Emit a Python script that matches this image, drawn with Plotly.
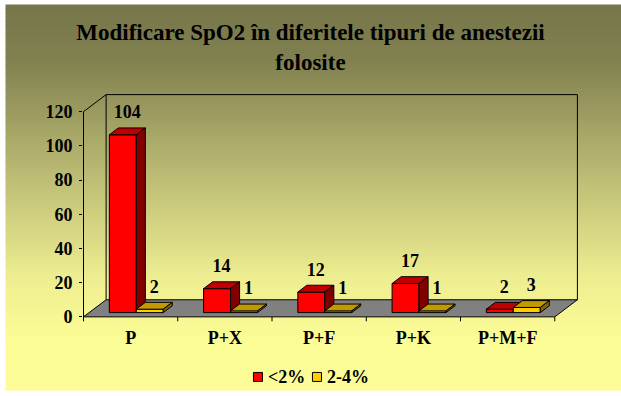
import plotly.graph_objects as go

# ---------------- data ----------------
categories = ["P", "P+X", "P+F", "P+K", "P+M+F"]
series_names = ["<2%", "2-4%"]
values_lt2 = [104, 14, 12, 17, 2]
values_2to4 = [2, 1, 1, 1, 3]
y_ticks = [0, 20, 40, 60, 80, 100, 120]
title_text = "Modificare SpO2 în diferitele tipuri de anestezii<br>folosite"

# ---------------- geometry / style ----------------
W, H = 621, 396
PX_X = 94.27          # px per category unit
PY = 1.7077           # px per value unit
X_FRONT_PX = 83       # pixel of front-left edge
Y0_PX = 317           # pixel of front floor line
DX, DY = 0.24, 10     # depth of the chart (data units)
F0, F1 = 0.25, 0.65   # bar depth fraction (front, back)
BW = 0.286            # bar width
YMAX_WALL = 130

FONT = "Liberation Serif"
FS = 18
SERIES_STYLE = [
    dict(front="#FF0000", top="#C00000", side="#800000"),
    dict(front="#FFCC00", top="#C09A00", side="#806600"),
]

xmin = -0.5 - 0.5 / PX_X
xmax = len(categories) - 0.5 + DX + 0.6 / PX_X
ymin = -3
ymax = YMAX_WALL + 0.6 / PY

m_l = X_FRONT_PX - 0.5
plot_w = (xmax - xmin) * PX_X
m_r = W - m_l - plot_w
m_t = Y0_PX - ymax * PY
plot_bottom_px = Y0_PX - ymin * PY
m_b = H - plot_bottom_px
plot_h = plot_bottom_px - m_t

bdx = (F1 - F0) * DX
bdy = (F1 - F0) * DY
base = F0 * DY

fig = go.Figure()

all_series = [values_lt2, values_2to4]
axes = [("x", "y"), ("x2", "y2")]
for s, vals in enumerate(all_series):
    st = SERIES_STYLE[s]
    xa, ya = axes[s]
    centers = [i + F0 * DX + (s - 0.5) * BW for i in range(len(categories))]
    fig.add_trace(go.Bar(
        x=centers, y=vals, base=base, width=BW, name=series_names[s],
        marker=dict(color=st["front"], line=dict(color="black", width=1)),
        xaxis=xa, yaxis=ya, hoverinfo="skip", showlegend=False,
    ))
    tx, ty, sx, sy = [], [], [], []
    for c, v in zip(centers, vals):
        xl, xr = c - BW / 2, c + BW / 2
        yt = base + v
        tx += [xl, xr, xr + bdx, xl + bdx, xl, None]
        ty += [yt, yt, yt + bdy, yt + bdy, yt, None]
        sx += [xr, xr, xr + bdx, xr + bdx, xr, None]
        sy += [base, yt, yt + bdy, base + bdy, base, None]
    for px_, py_, col in [(tx, ty, st["top"]), (sx, sy, st["side"])]:
        fig.add_trace(go.Scatter(
            x=px_, y=py_, fill="toself", fillcolor=col, mode="lines",
            line=dict(color="black", width=1), showlegend=False,
            xaxis=xa, yaxis=ya, hoverinfo="skip",
        ))

# data labels (top layer)
lx, ly, lt = [], [], []
for s, vals in enumerate(all_series):
    for i, v in enumerate(vals):
        lx.append(i + F0 * DX + (s - 0.5) * BW + bdx / 2)
        ly.append(base + v + 21 / PY)
        lt.append(str(v))
fig.add_trace(go.Scatter(
    x=lx, y=ly, text=lt, mode="text", textposition="middle center",
    textfont=dict(family=FONT, size=FS, color="black", weight="bold"),
    showlegend=False, xaxis="x2", yaxis="y2", hoverinfo="skip", cliponaxis=False,
))

shapes = []
annotations = []
def px2paper_x(px):
    return (px - m_l) / plot_w
def px2paper_y(py):
    return (plot_bottom_px - py) / plot_h

# gradient background bands
stops = [(5, (118, 118, 74)), (60, (128, 128, 80)), (180, (190, 190, 118)),
         (280, (238, 238, 145)), (340, (252, 252, 150)), (391, (252, 252, 152))]
def col_at(py):
    for (a, ca), (b, cb) in zip(stops[:-1], stops[1:]):
        if a <= py <= b:
            t = (py - a) / (b - a)
            return tuple(int(round(ca[k] + (cb[k] - ca[k]) * t)) for k in range(3))
    return stops[-1][1]
band = 4
py = 5
while py < 390:
    y2 = min(py + band, 390)
    c = col_at(py + band / 2)
    shapes.append(dict(type="rect", xref="paper", yref="paper",
                       x0=px2paper_x(5), x1=px2paper_x(W + 2),
                       y0=px2paper_y(y2 + 0.5), y1=px2paper_y(py),
                       fillcolor="rgb(%d,%d,%d)" % c, line=dict(width=0), layer="below"))
    py = y2

n = len(categories)
def path(pts, close=False):
    s = "M " + " L ".join("%f,%f" % p for p in pts)
    return s + (" Z" if close else "")
# floor
shapes.append(dict(type="path", xref="x", yref="y", layer="below",
                   path=path([(-0.5, 0), (n - 0.5, 0), (n - 0.5 + DX, DY), (-0.5 + DX, DY)], True),
                   fillcolor="#808080", line=dict(color="black", width=1)))
# back wall outline
shapes.append(dict(type="path", xref="x", yref="y", layer="below",
                   path=path([(-0.5 + DX, DY), (-0.5 + DX, YMAX_WALL), (n - 0.5 + DX, YMAX_WALL), (n - 0.5 + DX, DY)]),
                   line=dict(color="black", width=1)))
# front-left axis line + diagonal
shapes.append(dict(type="path", xref="x", yref="y", layer="below",
                   path=path([(-0.5, 0), (-0.5, y_ticks[-1]), (-0.5 + DX, YMAX_WALL)]),
                   line=dict(color="black", width=1)))
# category boundary ticks
for k in range(n + 1):
    shapes.append(dict(type="line", xref="x", yref="y", layer="below",
                       x0=k - 0.5, x1=k - 0.5, y0=0, y1=-2.6,
                       line=dict(color="black", width=1)))

# legend (manual, compact like the original)
LEG_Y = 377
leg_items = [(253, 266), (312, 325)]   # square left px, text left px
for s, (sq_x, tx_x) in enumerate(leg_items):
    shapes.append(dict(type="rect", xref="paper", yref="paper", layer="above",
                       x0=px2paper_x(sq_x), x1=px2paper_x(sq_x + 9),
                       y0=px2paper_y(LEG_Y + 4.5), y1=px2paper_y(LEG_Y - 4.5),
                       fillcolor=SERIES_STYLE[s]["front"], line=dict(color="black", width=1)))
    annotations.append(dict(text=series_names[s], xref="paper", yref="paper",
                            x=px2paper_x(tx_x), y=px2paper_y(LEG_Y), xanchor="left", yanchor="middle",
                            showarrow=False,
                            font=dict(family=FONT, size=FS, color="black", weight="bold")))

fig.update_layout(
    width=W, height=H,
    margin=dict(l=m_l, r=m_r, t=m_t, b=m_b, pad=0, autoexpand=False),
    paper_bgcolor="white", plot_bgcolor="rgba(0,0,0,0)",
    barmode="overlay",
    shapes=shapes,
    annotations=annotations,
    title=dict(text=title_text, x=0.5, xanchor="center", xref="container",
               y=1 - 40 / H, yanchor="top", yref="container",
               font=dict(family=FONT, size=23, color="black", weight="bold")),
    xaxis=dict(range=[xmin, xmax], tickvals=list(range(n)), ticktext=categories,
               showgrid=False, zeroline=False, showline=False, ticks="", automargin=False,
               ticklabelstandoff=3,
               tickfont=dict(family=FONT, size=FS, color="black", weight="bold"),
               fixedrange=True),
    yaxis=dict(range=[ymin, ymax], tickvals=y_ticks, showgrid=False, zeroline=False,
               showline=False, ticks="outside", ticklen=3, tickcolor="black", automargin=False,
               ticklabelstandoff=3,
               tickfont=dict(family=FONT, size=FS, color="black", weight="bold"),
               fixedrange=True),
    xaxis2=dict(range=[xmin, xmax], overlaying="x", visible=False, fixedrange=True),
    yaxis2=dict(range=[ymin, ymax], overlaying="y", visible=False, fixedrange=True),
    showlegend=False,
)

fig.write_html("out.html", config={"displayModeBar": False},
               post_script="document.body.style.margin='0';")
